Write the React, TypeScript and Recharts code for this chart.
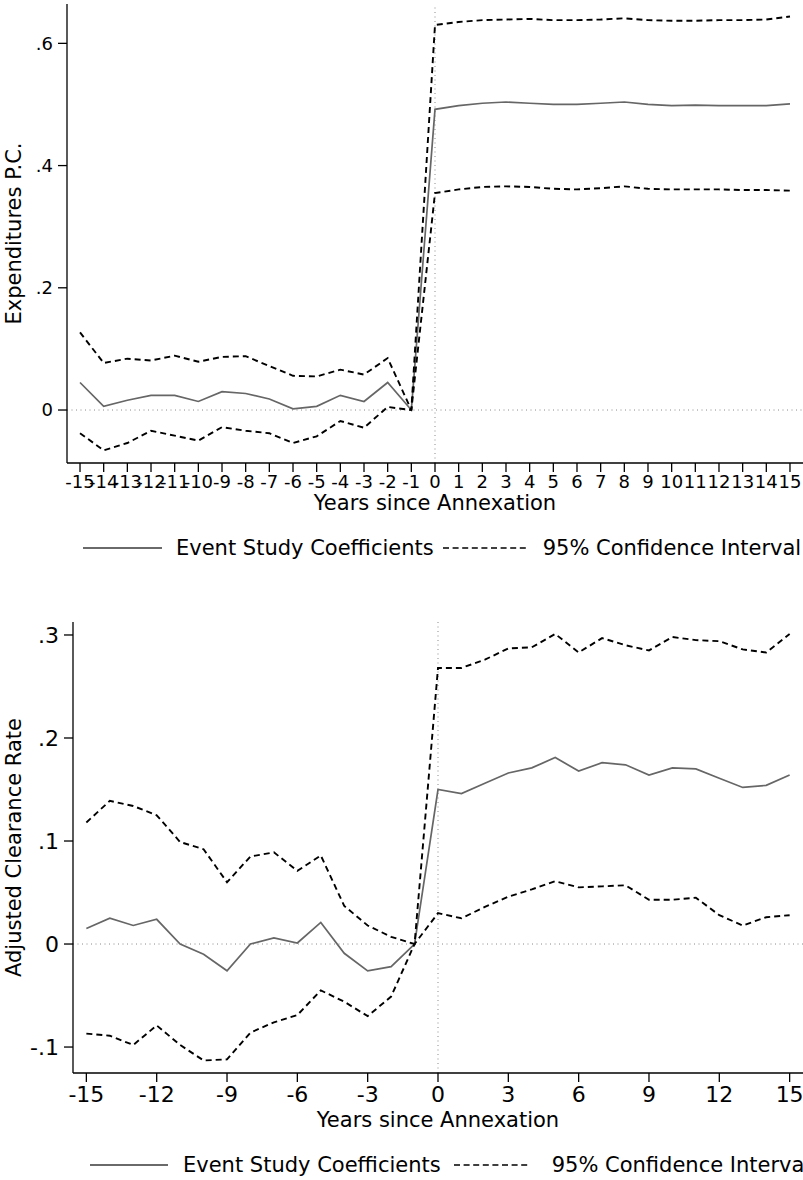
import React from 'react'
import { LineChart, Line, XAxis, YAxis, ReferenceLine, Legend } from 'recharts'

const years = [-15, -14, -13, -12, -11, -10, -9, -8, -7, -6, -5, -4, -3, -2, -1, 0, 1, 2, 3, 4, 5, 6, 7, 8, 9, 10, 11, 12, 13, 14, 15]

// Expenditures P.C.
const expCoef = [0.045, 0.006, 0.016, 0.024, 0.024, 0.014, 0.030, 0.027, 0.018, 0.002, 0.006, 0.024, 0.014, 0.045, 0, 0.492, 0.498, 0.502, 0.504, 0.502, 0.500, 0.500, 0.502, 0.504, 0.500, 0.498, 0.499, 0.498, 0.498, 0.498, 0.501]
const expUpper = [0.127, 0.077, 0.084, 0.081, 0.089, 0.079, 0.087, 0.088, 0.072, 0.056, 0.055, 0.066, 0.058, 0.085, 0, 0.630, 0.635, 0.638, 0.639, 0.640, 0.638, 0.638, 0.639, 0.641, 0.638, 0.637, 0.637, 0.638, 0.638, 0.639, 0.644]
const expLower = [-0.038, -0.066, -0.054, -0.034, -0.042, -0.050, -0.028, -0.034, -0.038, -0.054, -0.043, -0.018, -0.029, 0.005, 0, 0.355, 0.361, 0.365, 0.366, 0.365, 0.362, 0.361, 0.363, 0.366, 0.362, 0.361, 0.361, 0.361, 0.360, 0.360, 0.359]

// Adjusted Clearance Rate
const crCoef = [0.015, 0.025, 0.018, 0.024, 0.000, -0.010, -0.026, 0.000, 0.006, 0.001, 0.021, -0.009, -0.026, -0.022, 0, 0.150, 0.146, 0.156, 0.166, 0.171, 0.181, 0.168, 0.176, 0.174, 0.164, 0.171, 0.170, 0.161, 0.152, 0.154, 0.164]
const crUpper = [0.118, 0.139, 0.134, 0.125, 0.099, 0.092, 0.060, 0.085, 0.089, 0.071, 0.086, 0.037, 0.018, 0.007, 0, 0.268, 0.268, 0.276, 0.287, 0.288, 0.301, 0.283, 0.297, 0.290, 0.285, 0.298, 0.295, 0.294, 0.286, 0.283, 0.301]
const crLower = [-0.087, -0.089, -0.098, -0.079, -0.098, -0.113, -0.112, -0.086, -0.076, -0.069, -0.045, -0.056, -0.070, -0.051, 0, 0.030, 0.025, 0.036, 0.046, 0.053, 0.061, 0.055, 0.056, 0.057, 0.043, 0.043, 0.045, 0.028, 0.018, 0.026, 0.028]

const expTicks = [0, 0.2, 0.4, 0.6]
const crTicks = [-0.1, 0, 0.1, 0.2, 0.3]

const xTitle = 'Years since Annexation'
const coefName = 'Event Study Coefficients'
const ciName = '95% Confidence Interval'

const FONT = '"DejaVu Sans", sans-serif'

const fmt = (v: number) => (v === 0 ? '0' : v.toFixed(1).replace('0.', '.'))

function YTitle({ viewBox, text }: any) {
  const cy = viewBox.y + viewBox.height / 2
  return (
    <text x={14} y={cy} transform={`rotate(-90, 14, ${cy})`} textAnchor="middle" dominantBaseline="central" fontSize={21} fill="#000">
      {text}
    </text>
  )
}

function KeyRow({ pad, lineW, gap1, gap2, dashW, gap3 }: any) {
  return (
    <div style={{ height: 30, width: 803, display: 'flex', alignItems: 'center', paddingLeft: pad, boxSizing: 'border-box', fontSize: 21, color: '#000', whiteSpace: 'nowrap', overflow: 'hidden', fontFamily: FONT }}>
      <svg width={lineW} height={6} style={{ flex: 'none' }}>
        <line x1={0} y1={3} x2={lineW} y2={3} stroke="#6a6a6a" strokeWidth={2} />
      </svg>
      <span style={{ marginLeft: gap1 }}>{coefName}</span>
      <svg width={dashW} height={6} style={{ flex: 'none', marginLeft: gap2 }}>
        <line x1={0} y1={3} x2={dashW} y2={3} stroke="#000" strokeWidth={1.3} strokeDasharray="6 3.6" />
      </svg>
      <span style={{ marginLeft: gap3 }}>{ciName}</span>
    </div>
  )
}

function EventPlot({ coef, upper, lower, ticks, domain, yTitle, width, height, margin, xDomain, xHeight, tickSize, titleOffset, tickGap, legend }: any) {
  const data = years.map((year, i) => ({ year, coef: coef[i], upper: upper[i], lower: lower[i] }))
  return (
    <LineChart width={width} height={height} data={data} margin={margin}>
      <XAxis
        dataKey="year"
        type="number"
        domain={xDomain}
        ticks={years.filter((y) => legend.everyYear || y % 3 === 0)}
        interval={0}
        height={xHeight}
        tickSize={9}
        tickMargin={tickGap}
        axisLine={{ stroke: '#000', strokeWidth: 1.3 }}
        tickLine={{ stroke: '#000', strokeWidth: 1.3 }}
        tick={{ fontSize: tickSize, fill: '#000' }}
        label={{ value: xTitle, position: 'insideBottom', offset: titleOffset, fontSize: 21, fill: '#000' }}
      />
      <YAxis
        type="number"
        domain={domain}
        ticks={ticks}
        width={60}
        tickSize={9}
        tickMargin={5}
        tickFormatter={fmt}
        axisLine={{ stroke: '#000', strokeWidth: 1.3 }}
        tickLine={{ stroke: '#000', strokeWidth: 1.3 }}
        tick={{ fontSize: tickSize, fill: '#000' }}
        label={<YTitle text={yTitle} />}
      />
      <ReferenceLine y={0} stroke="#8a8a8a" strokeDasharray="1 3.5" />
      <ReferenceLine x={0} stroke="#8a8a8a" strokeDasharray="1 3.5" />
      <Line dataKey="coef" stroke="#666" strokeWidth={1.7} dot={false} isAnimationActive={false} />
      <Line dataKey="upper" stroke="#000" strokeWidth={1.9} strokeDasharray="6 4" dot={false} isAnimationActive={false} />
      <Line dataKey="lower" stroke="#000" strokeWidth={1.9} strokeDasharray="6 4" dot={false} isAnimationActive={false} />
      <Legend
        verticalAlign="bottom"
        wrapperStyle={{ left: 0, width: 803 }}
        content={() => <KeyRow {...legend} />}
      />
    </LineChart>
  )
}

export default function App() {
  return (
    <div style={{ position: 'absolute', left: 0, top: 0, width: 803, height: 1180, overflow: 'hidden', background: '#fff', fontFamily: FONT }}>
      <EventPlot
        coef={expCoef}
        upper={expUpper}
        lower={expLower}
        ticks={expTicks}
        domain={[-0.0867, 0.6644]}
        yTitle="Expenditures P.C."
        width={803}
        height={563}
        margin={{ top: 4, right: 0, left: 7, bottom: 0 }}
        xDomain={[-15.55, 15.55]}
        xHeight={70}
        tickSize={18}
        titleOffset={23}
        tickGap={3}
        legend={{ everyYear: true, pad: 83, lineW: 79, gap1: 14, gap2: 9, dashW: 85, gap3: 15 }}
      />
      <EventPlot
        coef={crCoef}
        upper={crUpper}
        lower={crLower}
        ticks={crTicks}
        domain={[-0.1252, 0.3126]}
        yTitle="Adjusted Clearance Rate"
        width={803}
        height={617}
        margin={{ top: 59, right: 0, left: 13, bottom: 0 }}
        xDomain={[-15.57, 15.57]}
        xHeight={77}
        tickSize={22}
        titleOffset={23}
        tickGap={4}
        legend={{ everyYear: false, pad: 90, lineW: 78, gap1: 15, gap2: 13, dashW: 75, gap3: 23 }}
      />
    </div>
  )
}
